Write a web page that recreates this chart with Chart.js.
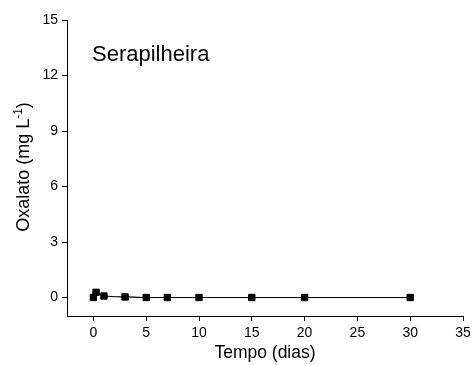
<!DOCTYPE html>
<html>
<head>
<meta charset="utf-8">
<script src="https://cdn.jsdelivr.net/npm/chart.js@4/dist/chart.umd.min.js"></script>
<style>
  html, body { margin: 0; padding: 0; background: #fff; }
  #box { width: 475px; height: 365px; }
</style>
</head>
<body>
<div id="box"><canvas id="grafico"></canvas></div>
<script>
// dados
const tempoDias = [0, 0.25, 1, 3, 5, 7, 10, 15, 20, 30];
const oxalato = [0, 0.28, 0.08, 0.03, 0, 0, 0, 0, 0, 0];
const ticksX = [0, 5, 10, 15, 20, 25, 30, 35];
const ticksY = [0, 3, 6, 9, 12, 15];
const tituloPainel = 'Serapilheira';

const fonte = 'Liberation Sans, Arial, sans-serif';

// titulo do painel e titulo do eixo y (com expoente)
const textosExtras = {
    id: 'textosExtras',
    afterDraw(chart) {
        const ctx = chart.ctx;
        ctx.save();
        ctx.fillStyle = '#000';
        ctx.font = '22px ' + fonte;
        ctx.textBaseline = 'alphabetic';
        ctx.textAlign = 'left';
        ctx.fillText(tituloPainel, 92, 61);

        ctx.translate(29, 167);
        ctx.rotate(-Math.PI / 2);
        const base = 'Oxalato (mg L';
        const sup = '-1';
        const fim = ')';
        ctx.font = '18px ' + fonte;
        const wBase = ctx.measureText(base).width;
        const wFim = ctx.measureText(fim).width;
        ctx.font = '12px ' + fonte;
        const wSup = ctx.measureText(sup).width;
        let x = -(wBase + wSup + wFim) / 2;
        ctx.font = '18px ' + fonte;
        ctx.fillText(base, x, 0);
        x += wBase;
        ctx.font = '12px ' + fonte;
        ctx.fillText(sup, x, -7);
        x += wSup;
        ctx.font = '18px ' + fonte;
        ctx.fillText(fim, x, 0);
        ctx.restore();
    }
};

const ctx = document.getElementById('grafico').getContext('2d');
new Chart(ctx, {
    type: 'line',
    data: {
        datasets: [{
            data: tempoDias.map((t, i) => ({ x: t, y: oxalato[i] })),
            borderColor: '#000',
            backgroundColor: '#000',
            borderWidth: 1.2,
            pointStyle: 'rect',
            pointRadius: 4.5,
            pointBorderWidth: 1,
            cubicInterpolationMode: 'monotone',
            fill: false
        }]
    },
    options: {
        responsive: true,
        maintainAspectRatio: false,
        animation: false,
        devicePixelRatio: 1,
        layout: { padding: { top: 20, right: 12, left: 0, bottom: 0 } },
        plugins: { legend: { display: false }, tooltip: { enabled: false } },
        scales: {
            x: {
                type: 'linear',
                min: -2.5,
                max: 35,
                afterBuildTicks: s => { s.ticks = ticksX.map(v => ({ value: v })); },
                afterFit: s => { s.height = 49; },
                grid: { display: true, drawOnChartArea: false, drawTicks: true, tickLength: 5, color: '#000' },
                border: { display: true, color: '#000', width: 1 },
                ticks: { color: '#000', padding: 4, maxRotation: 0, font: { family: fonte, size: 14 } },
                title: { display: true, text: 'Tempo (dias)', color: '#000', padding: { top: 0, bottom: 1 }, font: { family: fonte, size: 17.5 } }
            },
            y: {
                type: 'linear',
                min: -1,
                max: 15,
                afterBuildTicks: s => { s.ticks = ticksY.map(v => ({ value: v })); },
                afterFit: s => { s.width = 67; },
                grid: { display: true, drawOnChartArea: false, drawTicks: true, tickLength: 5, color: '#000' },
                border: { display: true, color: '#000', width: 1 },
                ticks: { color: '#000', padding: 4, font: { family: fonte, size: 14 } }
            }
        }
    },
    plugins: [textosExtras]
});
</script>
</body>
</html>
